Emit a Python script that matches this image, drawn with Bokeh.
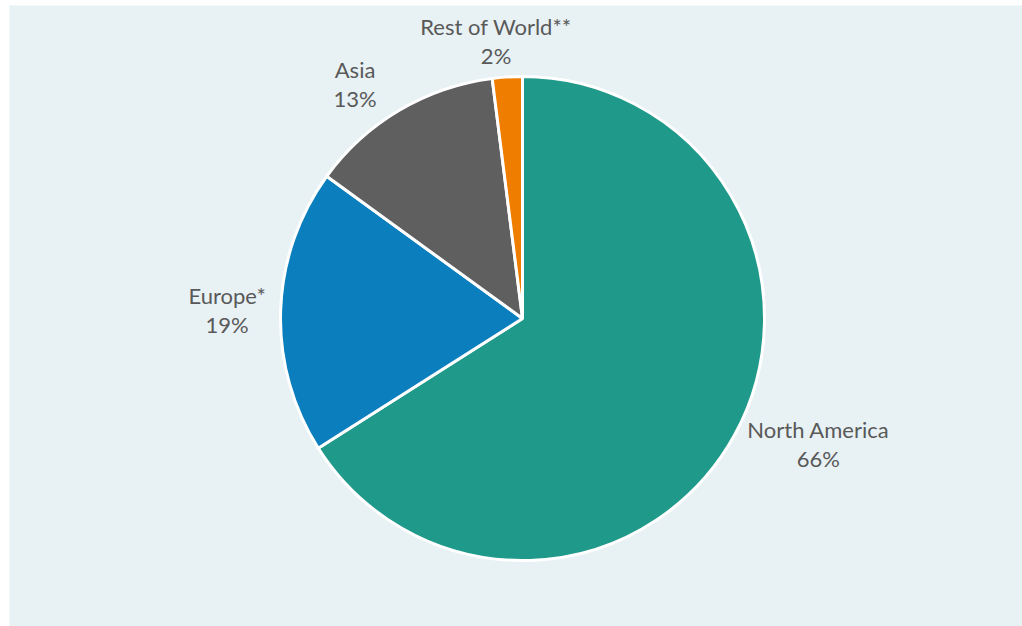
import math
from bokeh.plotting import figure
from bokeh.models import Range1d, ColumnDataSource
from bokeh.core.properties import value
from bokeh.embed import file_html
from bokeh.resources import INLINE

# ---- data ----
regions = ["North America", "Europe*", "Asia", "Rest of World**"]
shares = [66, 19, 13, 2]
colors = ["#1f9a8a", "#0b7fbd", "#5f5f5f", "#ef7d00"]

# ---- layout ----
W, H = 1022, 626
LEFT, TOP = 9, 5
CX, CY = 522, H - 318
R = 242
FONT = "Lato"
FS = 22
TEXT_COLOR = "#595959"

p = figure(width=W, height=H, x_range=Range1d(LEFT, W), y_range=Range1d(0, H - TOP),
           output_backend="svg", toolbar_location=None,
           min_border_left=LEFT, min_border_top=TOP, min_border_right=0, min_border_bottom=0,
           background_fill_color="#e8f1f4", border_fill_color="white", outline_line_color=None)
p.axis.visible = False
p.grid.visible = False

total = float(sum(shares))
starts, ends, mids = [], [], []
cum = 0.0
for s in shares:
    a0 = cum / total
    cum += s
    a1 = cum / total
    # clockwise from 12 o'clock
    starts.append(math.pi / 2 - 2 * math.pi * a1)
    ends.append(math.pi / 2 - 2 * math.pi * a0)
    mids.append(math.pi / 2 - 2 * math.pi * (a0 + a1) / 2)

src = ColumnDataSource(dict(x=[CX] * len(shares), y=[CY] * len(shares),
                            start=starts, end=ends, color=colors))
p.wedge(x="x", y="y", radius=R, start_angle="start", end_angle="end",
        direction="anticlock", fill_color="color", line_color="white",
        line_width=3, source=src)

# ---- labels (outside end, placed from each slice's mid angle) ----
pcts = [f"{s / total * 100:.0f}%" for s in shares]
lx, ly = [], []
GAP = 14
for name, pct, th in zip(regions, pcts, mids):
    hw = max(len(name), len(pct)) * FS * 0.5 / 2
    hh = 22.5
    c, s = math.cos(th), math.sin(th)
    ax = hw * math.copysign(min(1.0, 2 * abs(c)), c) * (1 + 0.8 * max(0.0, s) * (abs(c) > 0.3))
    ay = hh * s ** 3
    lx.append(CX + (R + GAP) * c + ax)
    ly.append(CY + (R + GAP) * s + ay)

lsrc = ColumnDataSource(dict(x=lx, y1=[v + 14.5 for v in ly], y2=[v - 14.5 for v in ly],
                             name=regions, pct=pcts))
for ycol, tcol in (("y1", "name"), ("y2", "pct")):
    p.text(x="x", y=ycol, text=tcol, source=lsrc, text_align="center",
           text_baseline="middle", text_font=value(FONT), text_font_size=f"{FS}px",
           text_color=TEXT_COLOR)

open("out.html", "w").write(file_html(p, INLINE))
